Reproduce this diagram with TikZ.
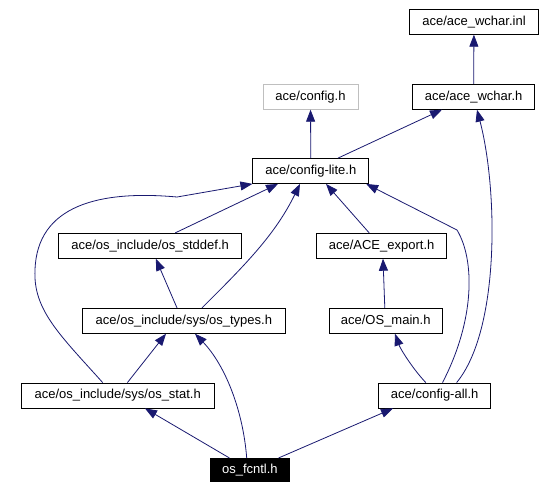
\documentclass[tikz,border=0pt]{standalone}
\usepackage{fontspec}
\setmainfont{Liberation Sans}
\usetikzlibrary{arrows.meta}
\definecolor{edgeblue}{RGB}{25,25,112}
\definecolor{extgray}{RGB}{191,191,191}
\tikzset{
    file/.style={draw=black, line width=0.8pt, minimum height=25pt, inner sep=1pt,
        font=\fontsize{13}{15}\selectfont},
    extfile/.style={file, draw=extgray},
    mainfile/.style={file, fill=black, text=white, minimum height=23.3pt},
    dep/.style={draw=edgeblue, line width=0.8pt, -{Triangle[length=12pt,width=9pt]}}
}
\begin{document}
\begin{tikzpicture}[x=1pt,y=-1pt]
\useasboundingbox (0,0) rectangle (556,490);
\node[file, minimum width=129pt] (inl) at (474,21.8) {ace/ace\_wchar.inl};
\node[file, minimum width=122pt] (wchar) at (473.6,96.8) {ace/ace\_wchar.h};
\node[extfile, minimum width=95pt] (config) at (310.5,96.8) {ace/config.h};
\node[file, minimum width=116pt] (lite) at (310.8,171) {ace/config-lite.h};
\node[file, minimum width=183.4pt] (stddef) at (150.1,245.8) {ace/os\_include/os\_stddef.h};
\node[file, minimum width=129.6pt] (export) at (381.6,245.8) {ace/ACE\_export.h};
\node[file, minimum width=203.6pt] (types) at (183.9,320.8) {ace/os\_include/sys/os\_types.h};
\node[file, minimum width=113.6pt] (osmain) at (385.7,320.8) {ace/OS\_main.h};
\node[file, minimum width=193pt] (stat) at (117.7,395.5) {ace/os\_include/sys/os\_stat.h};
\node[file, minimum width=111.8pt] (all) at (434.7,395.5) {ace/config-all.h};
\node[mainfile, minimum width=78.6pt] (fcntl) at (249.9,470) {os\_fcntl.h};

\draw[dep] (wchar) -- (inl);
\draw[dep] (lite) -- (config);
\draw[dep] ([xshift=27.2pt]lite.north) -- ([xshift=-31.6pt]wchar.south);
\draw[dep] ([xshift=25.1pt]stddef.north) -- ([xshift=-32.8pt]lite.south);
\draw[dep] ([xshift=18.1pt]types.north) .. controls (245,265) and (275,235) .. ([xshift=-10.8pt]lite.south);
\draw[dep] ([xshift=-12.4pt]export.north) -- ([xshift=15.2pt]lite.south);
\draw[dep] ([xshift=7.8pt]all.north) .. controls (475,320) and (475,260) .. (457,230) -- ([xshift=-3pt]lite.south east);
\draw[dep] ([xshift=21.9pt]all.north) .. controls (500,330) and (498,190) .. ([xshift=3.4pt]wchar.south);
\draw[dep] ([xshift=-15pt]stat.north) .. controls (60,335) and (33,310) .. (35,270)
    .. controls (37,205) and (100,190) .. (177,197) -- (lite.south west);
\draw[dep] ([xshift=-6.9pt]types.north) -- ([xshift=5.7pt]stddef.south);
\draw[dep] ([xshift=9.7pt]stat.north) -- ([xshift=-17.9pt]types.south);
\draw[dep] ([xshift=-3.2pt]fcntl.north) .. controls (243,410) and (225,365) .. ([xshift=11.1pt]types.south);
\draw[dep] ([xshift=-20.5pt]fcntl.north) -- ([xshift=27.3pt]stat.south);
\draw[dep] ([xshift=-0.9pt]osmain.north) -- ([xshift=1.4pt]export.south);
\draw[dep] ([xshift=-8.9pt]all.north) .. controls (412,368) and (400,348) .. ([xshift=9.3pt]osmain.south);
\draw[dep] ([xshift=28.7pt]fcntl.north) -- ([xshift=-41.7pt]all.south);
\end{tikzpicture}
\end{document}
